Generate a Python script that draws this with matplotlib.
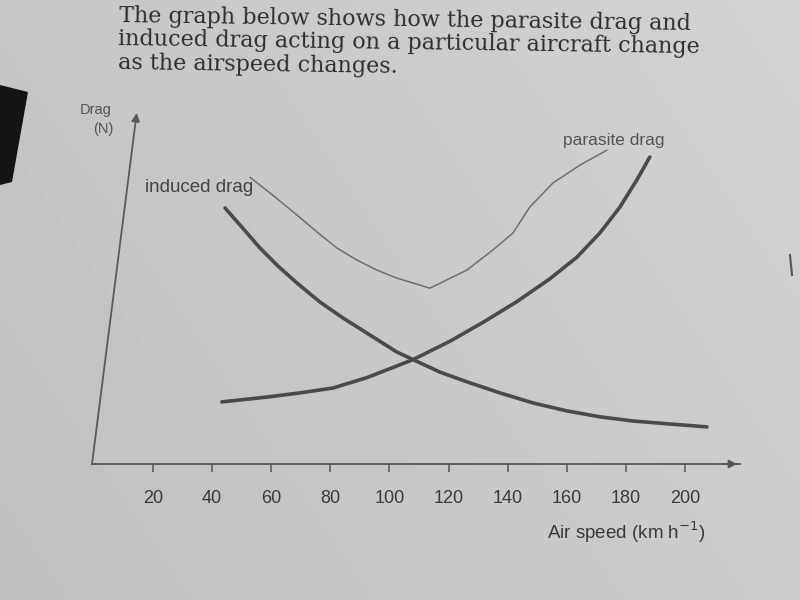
import matplotlib
matplotlib.use("Agg")
import matplotlib.pyplot as plt
import numpy as np
from matplotlib.patches import Polygon

# ---- data (drag has no numeric scale) ----
airspeed_ticks = [20, 40, 60, 80, 100, 120, 140, 160, 180, 200]

induced_speed = [44.4, 50.4, 56.2, 61.9, 68.7, 76.5, 84.3, 93.4, 102.5, 108.0, 117.1, 126.2,
                 137.4, 148.6, 160.1, 171.2, 182.4, 193.9, 207.4]
induced_drag  = [73.2, 67.4, 61.7, 56.8, 51.6, 46.1, 41.5, 36.6, 31.7, 29.5, 25.9, 23.1,
                 19.9, 17.0, 14.7, 13.0, 11.8, 11.0, 10.1]

parasite_speed = [43.3, 58.6, 69.7, 80.9, 92.4, 108.0, 120.5, 131.6, 143.1, 154.3, 163.4,
                  171.2, 178.0, 183.7, 188.1]
parasite_drag  = [17.3, 18.7, 19.9, 21.3, 24.3, 29.5, 34.8, 40.2, 46.2, 52.8, 59.0,
                  66.0, 73.5, 81.3, 87.9]

# hand-drawn pencil line (total drag)
total_speed = [52.8, 61.3, 68.7, 75.5, 82.2, 89.0, 95.8, 102.5, 113.7, 126.2, 135.0, 141.8,
               147.5, 155.3, 164.5, 173.6]
total_drag  = [82.1, 76.4, 71.2, 66.3, 61.7, 58.2, 55.3, 53.0, 50.1, 55.3, 61.1, 66.0,
               73.5, 80.4, 85.6, 89.9]

title_lines = ["The graph below shows how the parasite drag and",
               "induced drag acting on a particular aircraft change",
               "as the airspeed changes."]

W, H = 800, 600
paper = "#c6c6c1"
fig = plt.figure(figsize=(8, 6), dpi=100, facecolor=paper)

def fx(px):
    return px / W

def fy(py):
    return 1 - py / H

# subtle paper shading
bg = fig.add_axes([0, 0, 1, 1], zorder=-10)
gx, gy = np.meshgrid(np.linspace(0, 1, 200), np.linspace(0, 1, 150))
shade = 0.75 + 0.05 * gx + 0.025 * gy
bg.imshow(shade, cmap="gray", vmin=0, vmax=1, extent=[0, 1, 0, 1], aspect="auto", origin="lower")
bg.set_xlim(0, 1); bg.set_ylim(0, 1); bg.axis("off")
bg.add_patch(Polygon([[0, fy(85)], [fx(28), fy(92)], [fx(12), fy(182)], [0, fy(185)]],
                     closed=True, facecolor="#141414", edgecolor="none", transform=bg.transAxes))
bg.plot([fx(790), fx(792)], [fy(255), fy(275)], color="#555555", lw=1.5, transform=bg.transAxes)

# main axes
left_px, right_px, bot_px, top_px = 92, 740, 464, 113
ax = fig.add_axes([fx(left_px), fy(bot_px), (right_px - left_px) / W, (bot_px - top_px) / H])
ax.set_facecolor("none")
ax.set_xlim(-0.6, 218.6)
ax.set_ylim(-0.6, 100.6)

ax.plot(induced_speed, induced_drag, color="#4a4a4a", lw=2.6, solid_capstyle="round", solid_joinstyle="round")
ax.plot(parasite_speed, parasite_drag, color="#4a4a4a", lw=2.6, solid_capstyle="round", solid_joinstyle="round")
ax.plot(total_speed, total_drag, color="#707070", lw=1.1, solid_capstyle="round", solid_joinstyle="round")

for s in ["top", "right", "left"]:
    ax.spines[s].set_visible(False)
ax.spines["bottom"].set_color("#555555")
ax.spines["bottom"].set_linewidth(1.3)
ax.set_yticks([])
ax.set_xticks(airspeed_ticks)
ax.set_xticklabels([str(t) for t in airspeed_ticks], fontsize=13, color="#3a3a3a", family="Liberation Sans")
ax.tick_params(axis="x", direction="out", length=6, width=1.1, color="#555555", pad=13)

# arrows: x-axis and (slightly tilted) y-axis
ax.annotate("", xy=(1.0, 0), xytext=(0.97, 0), xycoords="axes fraction",
            arrowprops=dict(arrowstyle="-|>", color="#555555", lw=1.3, mutation_scale=12))
ax.annotate("", xy=(0.069, 1.0), xytext=(0.0, 0.0), xycoords="axes fraction",
            arrowprops=dict(arrowstyle="-|>", color="#5a5a5a", lw=1.3, mutation_scale=12,
                            shrinkA=0, shrinkB=0))

# labels
fig.text(fx(80), fy(110), "Drag", fontsize=10.5, color="#555555", va="center", ha="left", family="Liberation Sans")
fig.text(fx(93), fy(129), "(N)", fontsize=10.5, color="#555555", va="center", ha="left", family="Liberation Sans")
fig.text(fx(145), fy(187), "induced drag", fontsize=13.5, color="#444444", va="center", ha="left", family="Liberation Sans")
fig.text(fx(563), fy(140), "parasite drag", fontsize=12.5, color="#555555", va="center", ha="left", family="Liberation Sans")
fig.text(fx(547), fy(532), "Air speed (km h$^{-1}$)", fontsize=13.5, color="#3a3a3a", va="center", ha="left",
         family="Liberation Sans")

# header text from the page
fig.text(fx(119), fy(5), "\n".join(title_lines), fontsize=16, color="#2e2e2e", va="top", ha="left",
         family="DejaVu Serif", rotation=-0.8, rotation_mode="anchor", linespacing=1.08)

fig.savefig("out.png", dpi=100, facecolor=paper)
